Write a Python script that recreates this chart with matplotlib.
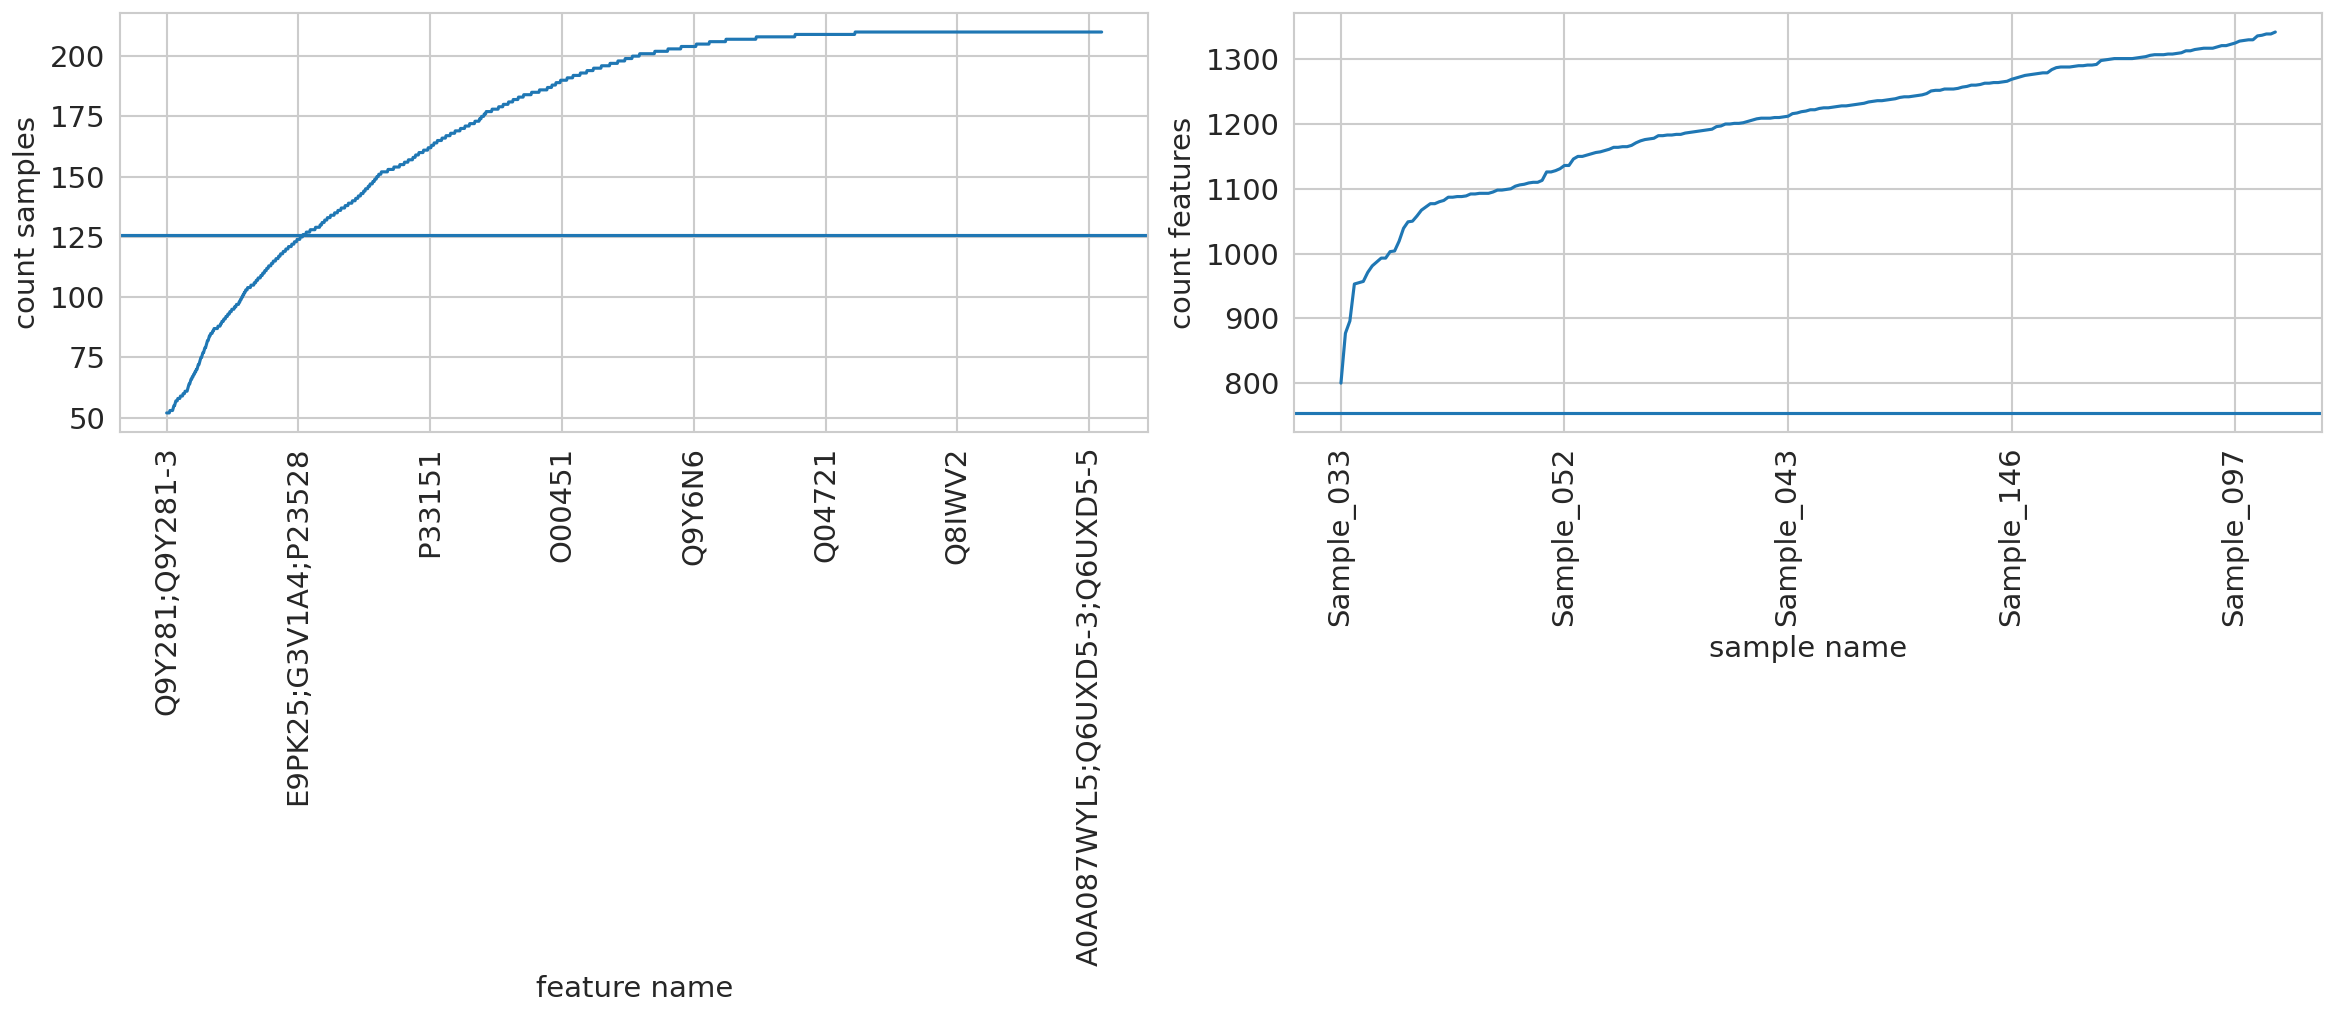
import numpy as np
import matplotlib
matplotlib.use("Agg")
import matplotlib.pyplot as plt
import seaborn as sns

sns.set_style("whitegrid")
plt.rcParams['font.family'] = ['DejaVu Sans']

# ---- left panel data: number of samples per feature (sorted) ----
# count value -> number of features having that count
sample_counts = list(range(52, 211))
features_per_count = [
    5, 5,                 # 52-53
    1, 2, 1,              # 54-56
    3, 4, 4,              # 57-59
    3, 4,                 # 60-61
    1, 1, 2, 1,           # 62-65
    2, 2, 2, 2,           # 66-69
    2, 1, 2,              # 70-72
    1, 1, 2, 1,           # 73-76
    2, 1, 2,              # 77-79
    1, 1, 2, 1,           # 80-83
    2, 3, 2,              # 84-86
    6,                    # 87
    4, 2, 3, 3,           # 88-91
    3, 3, 3,              # 92-94
    4, 3, 4,              # 95-97
    2, 2, 2, 2,           # 98-101
    2, 3,                 # 102-103
    5, 5,                 # 104-105
    3, 3, 4, 3,           # 106-109
    3, 3, 3,              # 110-112
    4, 3, 4,              # 113-115
    4, 3, 4, 4,           # 116-119
    4, 5, 4,              # 120-122
    4, 5, 4,              # 123-125
    5, 6,                 # 126-127
    8, 7,                 # 128-129
    3, 4, 4,              # 130-132
    5, 6, 5,              # 133-135
    5, 6, 5, 6, 5,        # 136-140
    4, 4, 4, 3, 4,        # 141-145
    3, 4, 3, 3, 3, 4,     # 146-151
    10, 9, 9,             # 152-154
    7, 6, 7,              # 155-157
    4, 5,                 # 158-159
    7, 7,                 # 160-161
    5, 4, 5,              # 162-164
    7, 6, 7,              # 165-167
    7, 8, 7,              # 168-170
    7, 8, 7,              # 171-173
    3, 4, 3,              # 174-176
    9, 10,                # 177-178
    7, 8, 7,              # 179-181
    8, 8,                 # 182-183
    12, 12, 12,           # 184-186
    7, 6, 7,              # 187-189
    10, 9, 11, 10, 10,    # 190-194
    12, 13, 12,           # 195-197
    11, 11, 11,           # 198-200
    23, 20, 20, 23, 20, 25,  # 201-206
    46, 59, 91, 375,      # 207-210
]
feature_tick_labels = [
    "Q9Y281;Q9Y281-3",
    "E9PK25;G3V1A4;P23528",
    "P33151",
    "O00451",
    "Q9Y6N6",
    "Q04721",
    "Q8IWV2",
    "A0A087WYL5;Q6UXD5-3;Q6UXD5-5",
]
feature_threshold = 125.6

# ---- right panel data: number of features per sample (sorted) ----
features_per_sample = [
    800, 877, 896, 953, 955, 957, 971, 981, 987, 993,
    993, 1003, 1004, 1019, 1039, 1049, 1050, 1058, 1067, 1072,
    1077, 1077, 1080, 1082, 1087, 1087, 1088, 1088, 1089, 1092,
    1092, 1093, 1093, 1093, 1095, 1098, 1098, 1099, 1100, 1104,
    1106, 1107, 1109, 1110, 1110, 1113, 1126, 1126, 1128, 1131,
    1136, 1136, 1146, 1150, 1150, 1152, 1154, 1156, 1157, 1159,
    1161, 1164, 1164, 1165, 1165, 1167, 1171, 1174, 1176, 1177,
    1178, 1182, 1182, 1183, 1183, 1184, 1184, 1186, 1187, 1188,
    1189, 1190, 1191, 1192, 1196, 1197, 1200, 1200, 1201, 1201,
    1202, 1204, 1206, 1208, 1209, 1209, 1209, 1210, 1210, 1211,
    1212, 1216, 1217, 1219, 1220, 1222, 1222, 1224, 1225, 1225,
    1226, 1227, 1228, 1228, 1229, 1230, 1231, 1232, 1234, 1235,
    1236, 1236, 1237, 1238, 1239, 1241, 1242, 1242, 1243, 1244,
    1245, 1247, 1251, 1252, 1252, 1254, 1254, 1254, 1255, 1257,
    1258, 1260, 1260, 1261, 1263, 1263, 1264, 1264, 1265, 1266,
    1269, 1271, 1273, 1275, 1276, 1277, 1278, 1279, 1279, 1284,
    1287, 1288, 1288, 1288, 1289, 1290, 1290, 1291, 1291, 1292,
    1298, 1299, 1300, 1301, 1301, 1301, 1301, 1301, 1302, 1303,
    1304, 1306, 1307, 1307, 1307, 1308, 1308, 1309, 1310, 1313,
    1313, 1315, 1316, 1317, 1317, 1317, 1319, 1321, 1321, 1323,
    1325, 1328, 1329, 1330, 1330, 1336, 1337, 1339, 1339, 1342,
]
sample_tick_labels = ["Sample_033", "Sample_052", "Sample_043", "Sample_146", "Sample_097"]
sample_threshold = 754

# ---- figure ----
W, H, DPI = 2337, 1014, 150
fig = plt.figure(figsize=(W / DPI, H / DPI), dpi=DPI)
FS = 14
color = "#1f77b4"
text_color = "0.15"

ax1 = fig.add_axes([0.0513, 0.574, 0.4401, 0.4132])
ax2 = fig.add_axes([0.5538, 0.574, 0.4398, 0.4132])

feature_values = np.repeat(sample_counts, features_per_count)
n_feat = len(feature_values)
ax1.plot(np.arange(n_feat), feature_values, color=color, lw=1.5)
ax1.axhline(feature_threshold, color=color, lw=1.5)
feat_ticks = np.arange(0, n_feat, 200)[:len(feature_tick_labels)]
ax1.set_xticks(feat_ticks)
ax1.set_xticklabels(feature_tick_labels, rotation=90, fontsize=FS, color=text_color)
lo = min(feature_values.min(), feature_threshold)
hi = max(feature_values.max(), feature_threshold)
m = 0.05 * (hi - lo)
ax1.set_ylim(lo - m, hi + m)
ax1.set_xlabel("feature name", fontsize=FS, color=text_color)
ax1.set_ylabel("count samples", fontsize=FS, color=text_color)

n_samp = len(features_per_sample)
ax2.plot(np.arange(n_samp), features_per_sample, color=color, lw=1.5)
ax2.axhline(sample_threshold, color=color, lw=1.5)
samp_ticks = np.arange(0, n_samp, 50)[:len(sample_tick_labels)]
ax2.set_xticks(samp_ticks)
ax2.set_xticklabels(sample_tick_labels, rotation=90, fontsize=FS, color=text_color)
lo = min(min(features_per_sample), sample_threshold)
hi = max(max(features_per_sample), sample_threshold)
m = 0.05 * (hi - lo)
ax2.set_ylim(lo - m, hi + m)
ax2.set_xlabel("sample name", fontsize=FS, color=text_color)
ax2.set_ylabel("count features", fontsize=FS, color=text_color)

for ax in (ax1, ax2):
    ax.tick_params(axis="y", labelsize=FS, labelcolor=text_color)
    ax.grid(True, color="#cccccc", lw=1.0)
    for s in ax.spines.values():
        s.set_color("#cccccc")
        s.set_linewidth(1.0)

fig.savefig("out.png", dpi=DPI)
